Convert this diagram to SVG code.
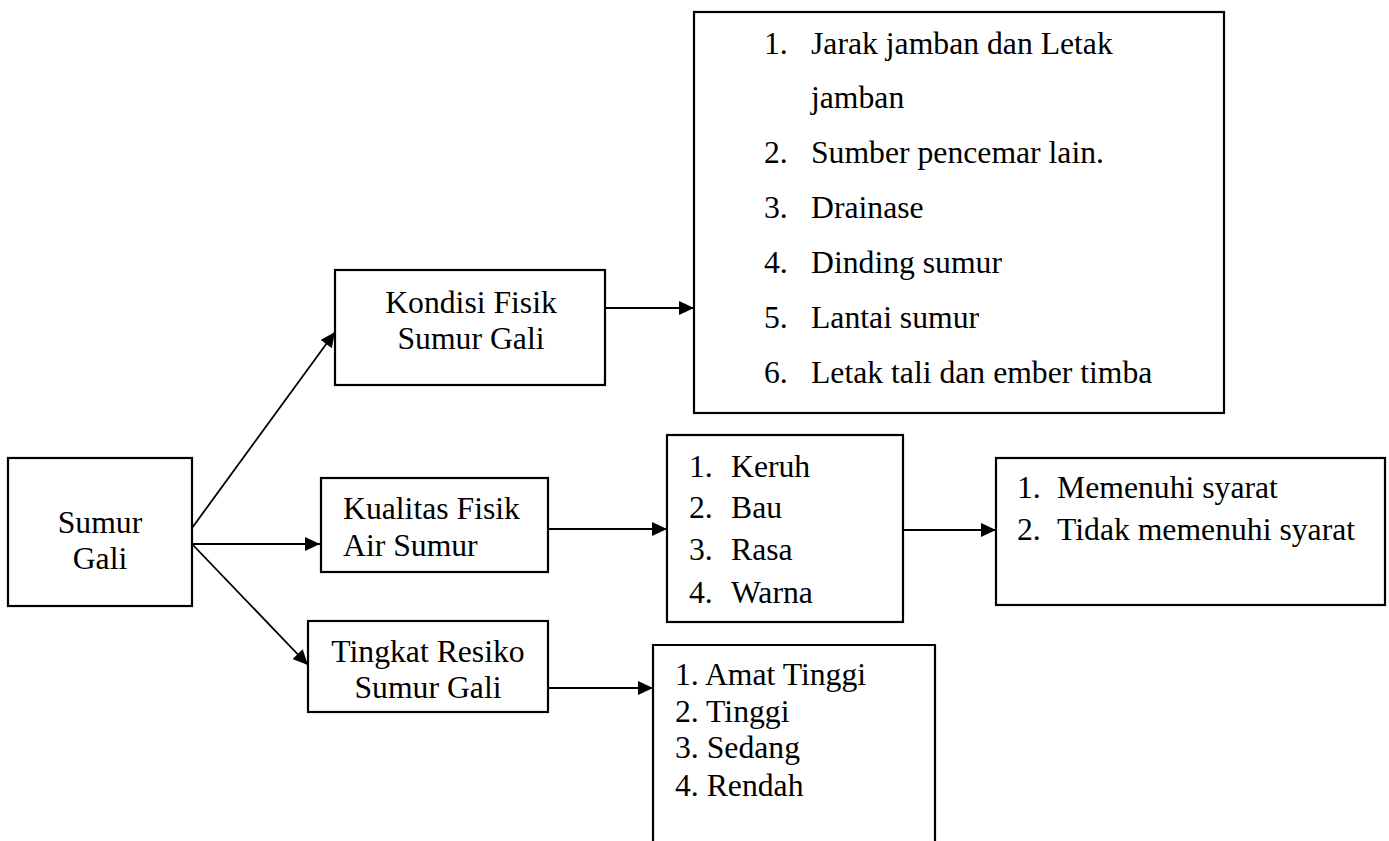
<svg xmlns="http://www.w3.org/2000/svg" width="1389" height="841" viewBox="0 0 1389 841">
<style>
.box{fill:#fff;stroke:#000;stroke-width:2.2}
.t{font-family:"Liberation Serif","Times New Roman",serif;font-size:31.7px;fill:#000}
.c{text-anchor:middle}
.ln{stroke:#000;stroke-width:1.8;fill:none;marker-end:url(#ah)}
</style>
<defs>
<marker id="ah" markerUnits="userSpaceOnUse" markerWidth="16" markerHeight="14" refX="15" refY="7" orient="auto">
<path d="M0,0 L15,7 L0,14 z" fill="#000"/>
</marker>
</defs>
<rect width="1389" height="841" fill="#fff"/>
<g id="connectors">
<line class="ln" x1="192" y1="528" x2="335" y2="332"/>
<line class="ln" x1="192" y1="544" x2="320" y2="544"/>
<line class="ln" x1="192" y1="544" x2="308" y2="665"/>
<line class="ln" x1="605" y1="308" x2="694" y2="308"/>
<line class="ln" x1="548" y1="529" x2="667" y2="529"/>
<line class="ln" x1="903" y1="530" x2="996" y2="530"/>
<line class="ln" x1="548" y1="688" x2="653" y2="688"/>
</g>
<g id="sumur-gali">
<rect class="box" x="8" y="458" width="184" height="148"/>
<text class="t c" x="100" y="533">Sumur</text>
<text class="t c" x="100" y="569">Gali</text>
</g>
<g id="kondisi-fisik">
<rect class="box" x="335" y="270" width="270" height="115"/>
<text class="t c" x="471" y="313">Kondisi Fisik</text>
<text class="t c" x="471" y="349">Sumur Gali</text>
</g>
<g id="kondisi-list">
<rect class="box" x="694" y="12" width="530" height="401"/>
<text class="t" x="764" y="54">1.</text><text class="t" x="811" y="54">Jarak jamban dan Letak</text>
<text class="t" x="811" y="108">jamban</text>
<text class="t" x="764" y="163">2.</text><text class="t" x="811" y="163">Sumber pencemar lain.</text>
<text class="t" x="764" y="218">3.</text><text class="t" x="811" y="218">Drainase</text>
<text class="t" x="764" y="273">4.</text><text class="t" x="811" y="273">Dinding sumur</text>
<text class="t" x="764" y="328">5.</text><text class="t" x="811" y="328">Lantai sumur</text>
<text class="t" x="764" y="383">6.</text><text class="t" x="811" y="383">Letak tali dan ember timba</text>
</g>
<g id="kualitas-fisik">
<rect class="box" x="321" y="478" width="227" height="94"/>
<text class="t" x="343" y="519">Kualitas Fisik</text>
<text class="t" x="343" y="556">Air Sumur</text>
</g>
<g id="kualitas-list">
<rect class="box" x="667" y="435" width="236" height="187"/>
<text class="t" x="689" y="477">1.</text><text class="t" x="731" y="477">Keruh</text>
<text class="t" x="689" y="518">2.</text><text class="t" x="731" y="518">Bau</text>
<text class="t" x="689" y="560">3.</text><text class="t" x="731" y="560">Rasa</text>
<text class="t" x="689" y="603">4.</text><text class="t" x="731" y="603">Warna</text>
</g>
<g id="hasil">
<rect class="box" x="996" y="458" width="389" height="147"/>
<text class="t" x="1017" y="498">1.</text><text class="t" x="1057" y="498">Memenuhi syarat</text>
<text class="t" x="1017" y="540">2.</text><text class="t" x="1057" y="540">Tidak memenuhi syarat</text>
</g>
<g id="tingkat-resiko">
<rect class="box" x="308" y="621" width="240" height="91"/>
<text class="t c" x="428" y="662">Tingkat Resiko</text>
<text class="t c" x="428" y="698">Sumur Gali</text>
</g>
<g id="tingkat-list">
<path class="box" d="M653,845 L653,645 L935,645 L935,845"/>
<text class="t" x="675" y="685">1. Amat Tinggi</text>
<text class="t" x="675" y="722">2. Tinggi</text>
<text class="t" x="675" y="758">3. Sedang</text>
<text class="t" x="675" y="796">4. Rendah</text>
</g>
</svg>
